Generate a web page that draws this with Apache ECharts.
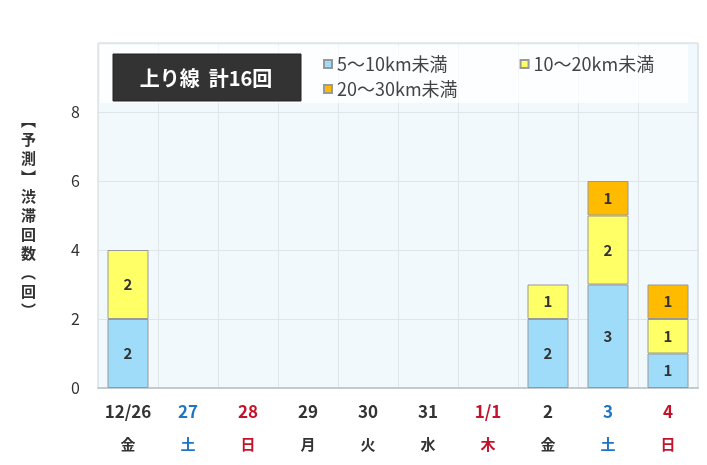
<!DOCTYPE html>
<html>
<head>
<meta charset="utf-8">
<script src="https://cdn.jsdelivr.net/npm/echarts@6/dist/echarts.min.js"></script>
<style>
  html, body { margin: 0; padding: 0; background: #fff; }
  #chart { width: 707px; height: 465px; }
</style>
</head>
<body>
<div id="chart"></div>
<script>
// 日付・曜日
var dateLabels = ['12/26', '27', '28', '29', '30', '31', '1/1', '2', '3', '4'];
var weekLabels = ['金', '土', '日', '月', '火', '水', '木', '金', '土', '日'];
// w:平日 s:土曜 h:日曜・祝日
var dayKinds = ['w', 's', 'h', 'w', 'w', 'w', 'h', 'w', 's', 'h'];

// 渋滞回数
var seriesNames = ['5～10km未満', '10～20km未満', '20～30km未満'];
var short = [2, 0, 0, 0, 0, 0, 0, 2, 3, 1];
var middle = [2, 0, 0, 0, 0, 0, 0, 1, 2, 1];
var long = [0, 0, 0, 0, 0, 0, 0, 0, 1, 1];
var yTicks = [0, 2, 4, 6, 8];

var totalCount = 0;
for (var i = 0; i < short.length; i++) {
  totalCount += short[i] + middle[i] + long[i];
}

var FONT = '"Noto Sans CJK JP", "Noto Sans", sans-serif';
var colors = ['#9edcfa', '#ffff66', '#ffbb00'];

function makeSeries(name, arr, color) {
  return {
    name: name,
    type: 'bar',
    stack: 'total',
    barWidth: 41,
    itemStyle: { color: color, borderColor: '#999', borderWidth: 1 },
    label: {
      show: true,
      position: 'inside',
      color: '#333',
      fontFamily: FONT,
      fontWeight: 'bold',
      fontSize: 15,
      formatter: function (p) { return p.value ? p.value : ''; }
    },
    data: arr.map(function (v) { return v ? v : '-'; })
  };
}

var chart = echarts.init(document.getElementById('chart'));
chart.setOption({
  animation: false,
  textStyle: { fontFamily: FONT },
  grid: {
    left: 98, right: 9, top: 43, bottom: 77,
    show: true,
    backgroundColor: '#f1f9fd',
    borderColor: '#cfd6da',
    borderWidth: 1
  },
  legend: [{
    data: [seriesNames[0], seriesNames[1]],
    left: 318, top: 50,
    icon: 'rect', itemWidth: 8, itemHeight: 8, itemGap: 72,
    textStyle: { fontFamily: FONT, fontSize: 18, color: '#444' }
  }, {
    data: [seriesNames[2]],
    left: 318, top: 75,
    icon: 'rect', itemWidth: 8, itemHeight: 8,
    textStyle: { fontFamily: FONT, fontSize: 18, color: '#444' }
  }],
  graphic: [{
    type: 'rect',
    shape: { x: 100, y: 45, width: 588, height: 58 },
    style: { fill: 'rgba(255,255,255,0.75)' },
    z: 1
  }, {
    type: 'rect',
    shape: { x: 113, y: 54, width: 188, height: 47 },
    style: { fill: '#333', stroke: '#222' },
    z: 2
  }, {
    type: 'text',
    x: 206, y: 78,
    style: {
      text: '上り線  計' + totalCount + '回',
      fill: '#fff', fontSize: 20, fontWeight: 'bold', fontFamily: FONT,
      align: 'center', verticalAlign: 'middle'
    },
    z: 3
  }],
  xAxis: {
    type: 'category',
    data: dateLabels,
    axisLine: { lineStyle: { color: '#c4cbcf', width: 2 } },
    axisTick: { show: false },
    splitLine: { show: true, interval: 0, lineStyle: { color: '#dfe5e8' } },
    axisLabel: {
      interval: 0,
      margin: 8,
      formatter: function (v, idx) {
        var k = dayKinds[idx];
        return '{d' + k + '|' + v + '}\n{k' + k + '|' + weekLabels[idx] + '}';
      },
      rich: {
        dw: { color: '#333', fontSize: 17, fontWeight: 'bold', lineHeight: 32, fontFamily: FONT },
        ds: { color: '#1f74c4', fontSize: 17, fontWeight: 'bold', lineHeight: 32, fontFamily: FONT },
        dh: { color: '#c3122a', fontSize: 17, fontWeight: 'bold', lineHeight: 32, fontFamily: FONT },
        kw: { color: '#333', fontSize: 15, fontWeight: 'bold', lineHeight: 32, fontFamily: FONT },
        ks: { color: '#1f74c4', fontSize: 15, fontWeight: 'bold', lineHeight: 32, fontFamily: FONT },
        kh: { color: '#c3122a', fontSize: 15, fontWeight: 'bold', lineHeight: 32, fontFamily: FONT }
      }
    }
  },
  yAxis: {
    type: 'value',
    min: 0, max: 10, interval: 2,
    name: '︻予測︼渋滞回数︵回︶'.split('').join('\n'),
    nameLocation: 'middle',
    nameRotate: 0,
    nameGap: 62,
    nameTextStyle: { color: '#333', fontSize: 15, fontWeight: 'bold', lineHeight: 19, fontFamily: FONT },
    axisLine: { show: false },
    axisTick: { show: false },
    splitLine: { lineStyle: { color: '#dfe5e8' } },
    axisLabel: {
      color: '#333', fontSize: 16, margin: 18, fontFamily: FONT,
      formatter: function (v) { return yTicks.indexOf(v) >= 0 ? String(v) : ''; }
    }
  },
  series: [
    makeSeries(seriesNames[0], short, colors[0]),
    makeSeries(seriesNames[1], middle, colors[1]),
    makeSeries(seriesNames[2], long, colors[2])
  ]
});
</script>
</body>
</html>
